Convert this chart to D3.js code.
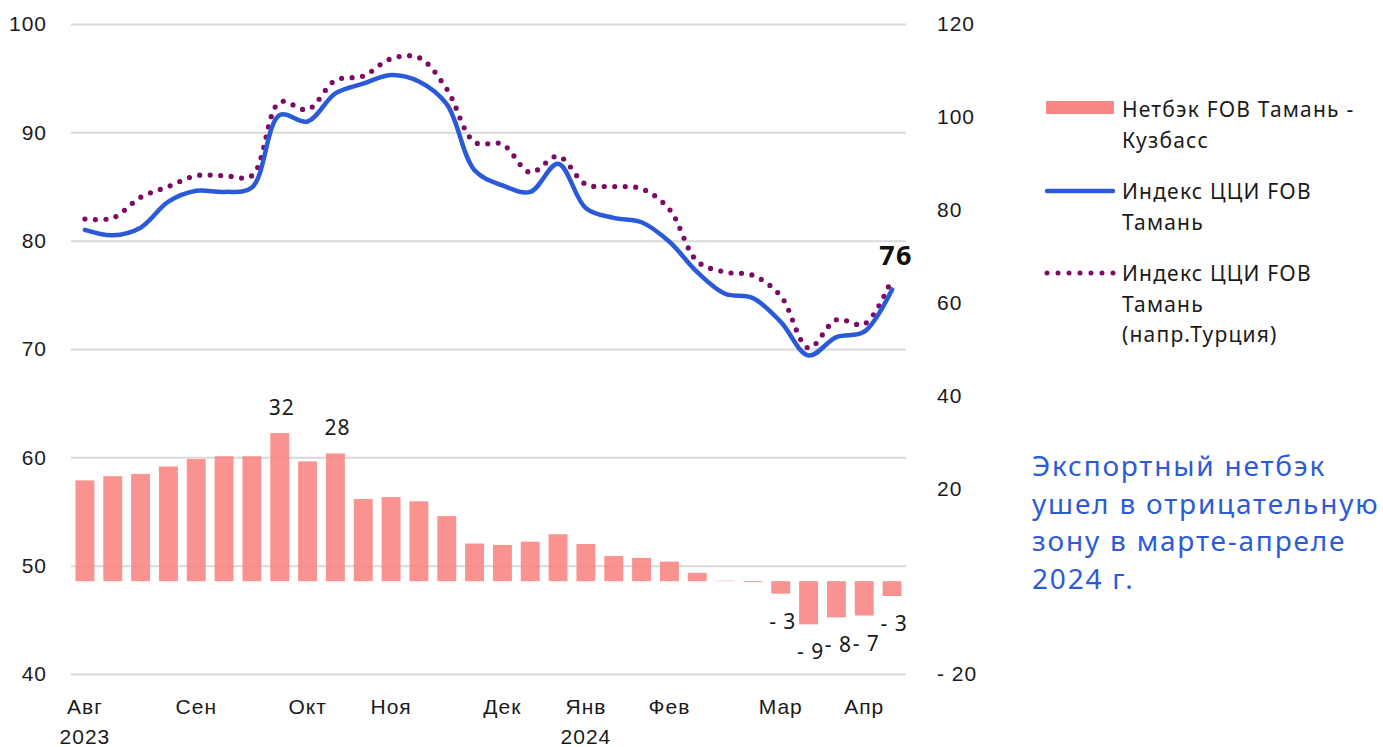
<!DOCTYPE html>
<html>
<head>
<meta charset="utf-8">
<script src="https://cdn.jsdelivr.net/npm/d3@7"></script>
<style>
  body { margin: 0; background: #fff; }
  svg { font-family: "Noto Sans", sans-serif; }
  .tick text { fill: #1a1a1a; font-size: 21px; letter-spacing: 1px; }
  .grid line { stroke: #d9d9d9; stroke-width: 2; }
  .legend-text { font-size: 21px; fill: #1a1a1a; letter-spacing: 1.2px; }
  .bar-label { font-size: 21px; fill: #1a1a1a; letter-spacing: 1px; }
  .note { font-size: 28px; fill: #2d5bd8; letter-spacing: 1.8px; }
</style>
</head>
<body>
<svg width="1383" height="747"></svg>
<script>
// week slots, Aug 2023 - Apr 2024 (label only where the month starts)
var weekLabels = ['Авг','','','','Сен','','','','Окт','','','Ноя','','','','Дек','','','Янв','','','Фев','','','','Мар','','','Апр',''];
var yearLabels = ['2023','','','','','','','','','','','','','','','','','','2024','','','','','','','','','','',''];

// netback FOB Taman - Kuzbass (right axis)
var netback = [21.7, 22.6, 23.1, 24.7, 26.3, 26.9, 26.9, 31.9, 25.8, 27.5, 17.7, 18.1, 17.2, 14.0, 8.1,
               7.8, 8.5, 10.1, 8.0, 5.4, 5.0, 4.2, 1.8, 0.1, -0.2, -2.7, -9.3, -7.8, -7.4, -3.2];
var netbackLabels = ['','','','','','','','32','','28','','','','','','','','','','','','','','','','- 3','- 9','- 8','- 7','- 3'];

// CCI index FOB Taman (left axis)
var cciTaman = [81.0, 80.5, 81.2, 83.6, 84.6, 84.5, 84.9, 91.6, 91.0, 93.6, 94.5, 95.3, 94.7, 92.6, 86.5,
                85.1, 84.5, 87.1, 83.0, 82.1, 81.7, 79.9, 77.1, 75.1, 74.7, 72.5, 69.4, 71.1, 71.6, 75.5];
// CCI index FOB Taman (destination Turkey)
var cciTurkey = [82.0, 82.1, 84.0, 85.0, 86.0, 86.0, 86.0, 92.8, 92.1, 94.8, 95.2, 96.8, 96.9, 94.0, 89.1,
                 88.9, 86.3, 87.8, 85.2, 85.0, 84.8, 82.9, 78.1, 77.1, 76.8, 74.9, 70.1, 72.7, 72.3, 76.5];

var leftTicks = [40, 50, 60, 70, 80, 90, 100];
var rightTicks = [-20, 0, 20, 40, 60, 80, 100, 120];

var legendNames = [['Нетбэк FOB Тамань -', 'Кузбасс'], ['Индекс ЦЦИ FOB', 'Тамань'], ['Индекс ЦЦИ FOB', 'Тамань', '(напр.Турция)']];
var noteLines = ['Экспортный нетбэк', 'ушел в отрицательную', 'зону в марте-апреле', '2024 г.'];

var barColor = '#f98784';
var blue = '#2a5ad8';
var purple = '#7d0b66';

var svg = d3.select('svg');
var padding = {t: 24, l: 71};
var chartWidth = 835;
var chartHeight = 650;

var chart = svg.append('g').attr('transform', 'translate(' + [padding.l, padding.t] + ')');

var idx = d3.range(netback.length);
var xScale = d3.scaleBand().domain(idx).range([0, chartWidth]).paddingInner(0.32).paddingOuter(0.16);
var yLeft = d3.scaleLinear().domain([40, 100]).range([chartHeight, 0]);
var yRight = d3.scaleLinear().domain([-20, 120]).range([chartHeight, 0]);
var cx = function(i) { return xScale(i) + xScale.bandwidth() / 2; };

// gridlines + left labels
var leftAxis = d3.axisLeft(yLeft).tickValues(leftTicks).tickSize(-chartWidth).tickPadding(24);
chart.append('g').attr('class', 'grid').call(leftAxis)
    .call(function(g) { g.select('.domain').remove(); });

// right labels, zero hidden like the original number format
var rightAxis = d3.axisRight(yRight).tickValues(rightTicks).tickSize(0).tickPadding(31)
    .tickFormat(function(v) { return v === 0 ? '' : (v < 0 ? '- ' + (-v) : v); });
chart.append('g').attr('transform', 'translate(' + chartWidth + ',0)').call(rightAxis)
    .call(function(g) { g.select('.domain').remove(); });

// bottom month labels
var xAxis = d3.axisBottom(xScale).tickSize(0).tickPadding(25)
    .tickFormat(function(i) { return weekLabels[i]; });
var xg = chart.append('g').attr('transform', 'translate(0,' + chartHeight + ')').call(xAxis);
xg.select('.domain').remove();
xg.selectAll('.tick text').each(function(i) {
    if (yearLabels[i]) {
        d3.select(this).append('tspan').attr('x', 0).attr('dy', '1.45em').text(yearLabels[i]);
    }
});

// bars
chart.selectAll('.bar').data(idx).enter().append('rect')
    .attr('class', 'bar')
    .attr('x', function(i) { return xScale(i); })
    .attr('width', xScale.bandwidth())
    .attr('y', function(i) { return yRight(Math.max(0, netback[i])); })
    .attr('height', function(i) { return Math.abs(yRight(netback[i]) - yRight(0)); })
    .attr('fill', barColor)
    .attr('fill-opacity', 0.9);

chart.selectAll('.bar-label').data(idx.filter(function(i) { return netbackLabels[i]; })).enter()
    .append('text')
    .attr('class', 'bar-label')
    .attr('text-anchor', 'middle')
    .attr('x', function(i) { return cx(i) + 2; })
    .attr('y', function(i) {
        return netback[i] >= 0 ? yRight(netback[i]) - 18 : yRight(netback[i]) + 35;
    })
    .text(function(i) { return netbackLabels[i]; });

// lines
var line = function(values) {
    return d3.line()
        .x(function(i) { return cx(i); })
        .y(function(i) { return yLeft(values[i]); })
        .curve(d3.curveCatmullRom.alpha(0.5))(idx);
};

chart.append('path').attr('d', line(cciTurkey))
    .attr('fill', 'none').attr('stroke', purple).attr('stroke-width', 5.2)
    .attr('stroke-linecap', 'round').attr('stroke-dasharray', '0 10.5');

chart.append('path').attr('d', line(cciTaman))
    .attr('fill', 'none').attr('stroke', blue).attr('stroke-width', 4.5)
    .attr('stroke-linecap', 'round');

var last = idx.length - 1;
chart.append('text')
    .attr('x', cx(last) + 4)
    .attr('y', yLeft(cciTurkey[last]) - 14)
    .attr('text-anchor', 'middle')
    .attr('font-size', 27).attr('font-weight', 'bold').attr('fill', '#111')
    .attr('letter-spacing', '1.5px')
    .text(Math.round(cciTaman[last]));

// legend
var legend = svg.append('g').attr('transform', 'translate(1046,0)');
legend.append('rect').attr('x', 0).attr('y', 101).attr('width', 68).attr('height', 13).attr('fill', barColor);
legend.append('line').attr('x1', 1).attr('x2', 67).attr('y1', 191).attr('y2', 191)
    .attr('stroke', blue).attr('stroke-width', 4.5).attr('stroke-linecap', 'round');
legend.append('line').attr('x1', 1).attr('x2', 68).attr('y1', 273).attr('y2', 273)
    .attr('stroke', purple).attr('stroke-width', 5).attr('stroke-linecap', 'round').attr('stroke-dasharray', '0 11');

var legendTop = [117, 199, 281];
legendNames.forEach(function(lines, k) {
    var t = legend.append('text').attr('class', 'legend-text').attr('x', 76).attr('y', legendTop[k]);
    lines.forEach(function(s, j) {
        t.append('tspan').attr('x', 76).attr('dy', j === 0 ? 0 : 30.5).text(s);
    });
});

// note
var note = svg.append('text').attr('class', 'note').attr('x', 1032).attr('y', 476);
noteLines.forEach(function(s, j) {
    note.append('tspan').attr('x', 1032).attr('dy', j === 0 ? 0 : 37.7).text(s);
});
</script>
</body>
</html>
